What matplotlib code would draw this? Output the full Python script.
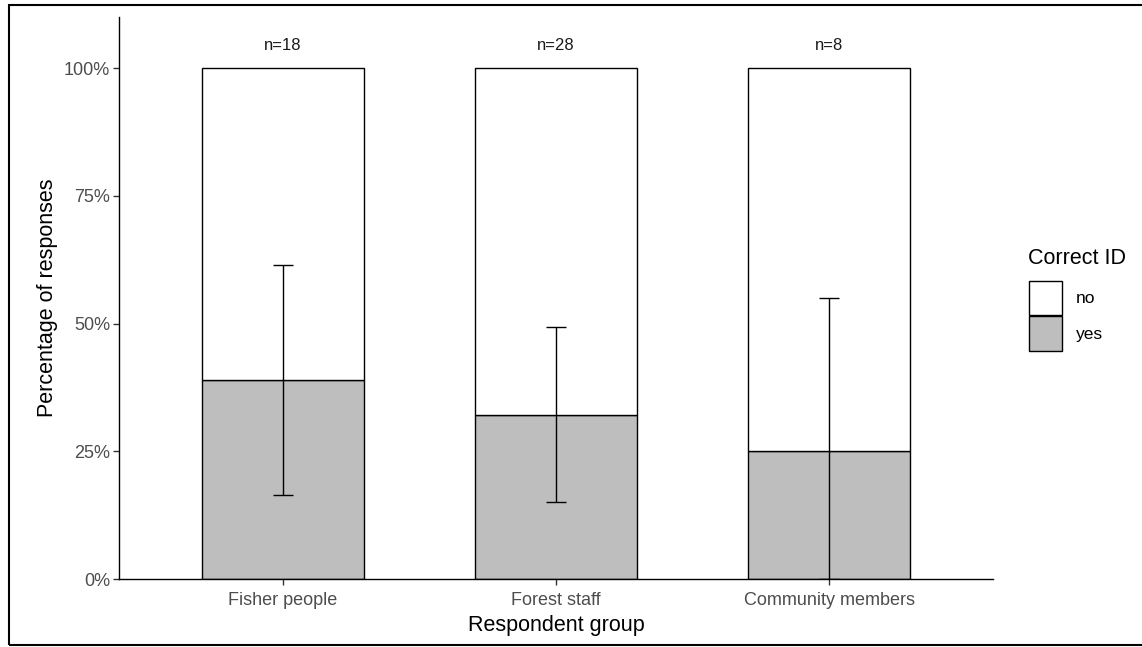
import matplotlib
matplotlib.use("Agg")
import matplotlib.pyplot as plt
from matplotlib.patches import Patch, Rectangle
import numpy as np

plt.rcParams['font.family'] = ['Liberation Sans', 'DejaVu Sans']

groups = ["Fisher people", "Forest staff", "Community members"]
n_labels = ["n=18", "n=28", "n=8"]
yes_pct = [38.9, 32.1, 25.0]
ci_low = [16.5, 15.1, 0.0]
ci_high = [61.4, 49.3, 55.0]
yticks = [0, 25, 50, 75, 100]
ytick_labels = ["0%", "25%", "50%", "75%", "100%"]

fig = plt.figure(figsize=(11.42, 6.47), dpi=100)
ax = fig.add_axes([119/1142, 1-579/647, (993-119)/1142, (579-17)/647])

x = np.arange(1, len(groups) + 1)
no_pct = [100 - v for v in yes_pct]
w = 0.593
ax.bar(x, yes_pct, width=w, color="#BEBEBE", edgecolor="black", linewidth=1.0, label="yes", zorder=2)
ax.bar(x, no_pct, width=w, bottom=yes_pct, color="white", edgecolor="black", linewidth=1.0, label="no", zorder=2)

yes_arr = np.array(yes_pct)
err = [yes_arr - np.array(ci_low), np.array(ci_high) - yes_arr]
ax.errorbar(x, yes_pct, yerr=err, fmt="none", ecolor="black", elinewidth=1.0, capsize=7, capthick=1.0, zorder=3)

for xi, lab in zip(x, n_labels):
    ax.text(xi, 104.5, lab, ha="center", va="center", fontsize=12, color="#1A1A1A")

ax.set_xlim(0.4, 3.6)
ax.set_ylim(0, 110)
ax.set_xticks(x)
ax.set_xticklabels(groups)
ax.set_yticks(yticks)
ax.set_yticklabels(ytick_labels)
ax.tick_params(axis="both", colors="#4D4D4D", labelsize=13, length=4, width=1.0, direction="out")
ax.tick_params(axis="both", color="#333333")
ax.tick_params(axis="y", pad=2.5)
ax.tick_params(axis="x", pad=5.5)
for s in ["top", "right"]:
    ax.spines[s].set_visible(False)
for s in ["left", "bottom"]:
    ax.spines[s].set_linewidth(1.0)
    ax.spines[s].set_color("black")
ax.set_xlabel("Respondent group", fontsize=15.5, color="black", labelpad=4.5)
ax.set_ylabel("Percentage of responses", fontsize=15.5, color="black", labelpad=4)

handles = [Patch(facecolor="white", edgecolor="black", linewidth=1.0, label="no"),
           Patch(facecolor="#BEBEBE", edgecolor="black", linewidth=1.0, label="yes")]
fig.text(1028/1142, 1-258/647, "Correct ID", ha="left", va="center", fontsize=15.5, color="black")
leg = fig.legend(handles=handles, loc="upper left",
                 bbox_to_anchor=(1013/1142, 1-265/647), frameon=False,
                 fontsize=12.5, handlelength=1.9, handleheight=2.7,
                 handletextpad=0.8, labelspacing=0.05)

fig.patches.append(Rectangle((9/1142, 2/647), 1.2, 1-7/647, transform=fig.transFigure,
                             fill=False, edgecolor="black", linewidth=1.5))

fig.savefig("out.png", dpi=100)
